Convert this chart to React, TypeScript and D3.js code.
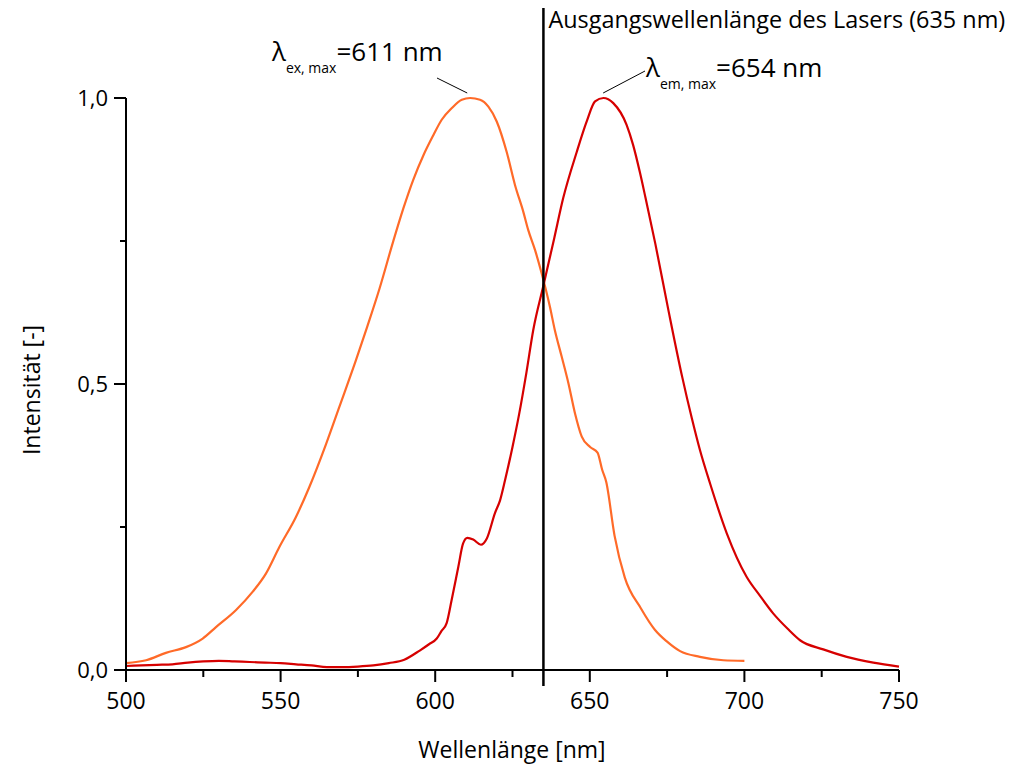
import React from "react";
import * as d3 from "d3";

const excitationNm = [500, 506.5, 512.9, 519.4, 524.8, 529.1, 535.6, 541, 545.3, 549.6, 555, 559.3, 564.7, 569, 574.4, 578, 582, 586.4, 589.7, 592.9, 596.2, 599.4, 602.1, 605.3, 608.6, 611.3, 614.5, 617.2, 619.9, 623.1, 625.8, 628.5, 630.1, 632.3, 634.4, 637.1, 638.7, 640.9, 643.1, 645.2, 647.4, 650.1, 652.5, 654, 655.3, 658, 661.3, 666.5, 671.1, 674.9, 679.2, 685.6, 693.2, 700];
const excitationVal = [0.012, 0.017, 0.030, 0.040, 0.055, 0.075, 0.105, 0.137, 0.169, 0.215, 0.268, 0.320, 0.395, 0.460, 0.542, 0.600, 0.667, 0.749, 0.807, 0.857, 0.900, 0.935, 0.962, 0.982, 0.997, 1.0, 0.997, 0.985, 0.959, 0.906, 0.848, 0.801, 0.769, 0.734, 0.694, 0.635, 0.594, 0.548, 0.501, 0.449, 0.408, 0.390, 0.380, 0.350, 0.329, 0.235, 0.162, 0.108, 0.070, 0.050, 0.033, 0.023, 0.017, 0.016];

const emissionNm = [500, 505, 510, 515, 520, 525, 530, 535, 540, 545, 550, 555, 560, 565, 570, 575, 580, 585, 590, 595, 598, 600.5, 602, 603.7, 605.3, 607.5, 609, 610.4, 612.3, 614.8, 616.7, 619.3, 621, 622.6, 625, 627.1, 629.5, 631.7, 635, 638.5, 641.4, 645.8, 649, 651.7, 654.4, 657.6, 661.9, 664, 666.2, 668, 671.2, 675.5, 679.9, 683, 685.6, 688.9, 694.3, 700.7, 705, 709.3, 714, 718, 725.5, 733.1, 741.7, 750];
const emissionVal = [0.007, 0.008, 0.009, 0.010, 0.013, 0.015, 0.016, 0.015, 0.014, 0.013, 0.012, 0.010, 0.008, 0.005, 0.005, 0.006, 0.008, 0.012, 0.018, 0.034, 0.045, 0.055, 0.068, 0.082, 0.122, 0.181, 0.221, 0.231, 0.228, 0.219, 0.230, 0.274, 0.297, 0.332, 0.390, 0.446, 0.520, 0.594, 0.672, 0.755, 0.825, 0.906, 0.959, 0.994, 1.0, 0.991, 0.953, 0.918, 0.870, 0.826, 0.745, 0.627, 0.512, 0.440, 0.385, 0.326, 0.239, 0.163, 0.130, 0.099, 0.072, 0.052, 0.036, 0.023, 0.013, 0.006];

const xMajorTicks = [500, 550, 600, 650, 700, 750];
const xMinorTicks = [525, 575, 625, 675, 725];
const yMajorTicks = [0, 0.5, 1.0];
const yMinorTicks = [0.25, 0.75];
const yTickLabels = ["0,0", "0,5", "1,0"];

const laserNm = 635;
const exMaxNm = 611;
const emMaxNm = 654;

const FONT = "'Open Sans', sans-serif";

export default function App() {
  const x = d3.scaleLinear().domain([500, 750]).range([126, 899]);
  const y = d3.scaleLinear().domain([0, 1]).range([670, 98]);

  const exData = excitationNm.map((n, i) => [n, excitationVal[i]] as [number, number]);
  const emData = emissionNm.map((n, i) => [n, emissionVal[i]] as [number, number]);
  const line = d3
    .line<[number, number]>()
    .x((d) => x(d[0]))
    .y((d) => y(d[1]))
    .curve(d3.curveMonotoneX);

  const exPeakX = x(exMaxNm);
  const emPeakX = x(emMaxNm);
  const peakY = y(1);

  return (
    <svg
      width={1013}
      height={767}
      style={{ position: "absolute", left: 0, top: 0, background: "#fff" }}
      fontFamily={FONT}
    >
      <rect x={0} y={0} width={1013} height={767} fill="#fff" />
      {/* curves */}
      <path d={line(exData) || ""} fill="none" stroke="#FF6A28" strokeWidth={2.2} strokeLinejoin="round" />
      <path d={line(emData) || ""} fill="none" stroke="#D60000" strokeWidth={2.2} strokeLinejoin="round" />

      {/* axes */}
      <line x1={x(500)} x2={x(750)} y1={y(0)} y2={y(0)} stroke="#000" strokeWidth={2} />
      <line x1={x(500)} x2={x(500)} y1={y(0) + 1} y2={y(1)} stroke="#000" strokeWidth={2} />
      {xMajorTicks.map((t) => (
        <g key={"xm" + t}>
          <line x1={x(t)} x2={x(t)} y1={y(0)} y2={y(0) + 12} stroke="#000" strokeWidth={2} />
          <text x={x(t)} y={709} fontSize={23} textAnchor="middle" fill="#000">
            {t}
          </text>
        </g>
      ))}
      {xMinorTicks.map((t) => (
        <line key={"xn" + t} x1={x(t)} x2={x(t)} y1={y(0)} y2={y(0) + 7} stroke="#000" strokeWidth={2} />
      ))}
      {yMajorTicks.map((t, i) => (
        <g key={"ym" + t}>
          <line x1={x(500) - 12} x2={x(500)} y1={y(t)} y2={y(t)} stroke="#000" strokeWidth={2} />
          <text x={108} y={y(t) + 8} fontSize={22} textAnchor="end" fill="#000">
            {yTickLabels[i]}
          </text>
        </g>
      ))}
      {yMinorTicks.map((t) => (
        <line key={"yn" + t} x1={x(500) - 6} x2={x(500)} y1={y(t)} y2={y(t)} stroke="#000" strokeWidth={2} />
      ))}

      {/* axis titles */}
      <text x={512} y={758} fontSize={23} textAnchor="middle" fill="#000">
        Wellenlänge [nm]
      </text>
      <text
        transform={`translate(40,390) rotate(-90)`}
        fontSize={23}
        textAnchor="middle"
        fill="#000"
      >
        Intensität [-]
      </text>

      {/* laser line */}
      <line x1={x(laserNm)} x2={x(laserNm)} y1={8} y2={686} stroke="#000" strokeWidth={2.5} />
      <text x={x(laserNm) + 5} y={28} fontSize={23.4} fill="#000">
        Ausgangswellenlänge des Lasers (635 nm)
      </text>

      {/* excitation annotation */}
      <line x1={437} y1={78} x2={exPeakX - 2} y2={peakY - 5} stroke="#000" strokeWidth={1} />
      <text x={272} y={61} fill="#000">
        <tspan fontSize={26}>λ</tspan>
        <tspan fontSize={14} dy={12}>ex, max</tspan>
        <tspan fontSize={26} dy={-12}>=611 nm</tspan>
      </text>

      {/* emission annotation */}
      <line x1={emPeakX + 1} y1={peakY - 5} x2={645} y2={71} stroke="#000" strokeWidth={1} />
      <text x={646} y={77} fill="#000">
        <tspan fontSize={26}>λ</tspan>
        <tspan fontSize={14} dy={12}>em, max</tspan>
        <tspan fontSize={26} dy={-12}>=654 nm</tspan>
      </text>
    </svg>
  );
}
